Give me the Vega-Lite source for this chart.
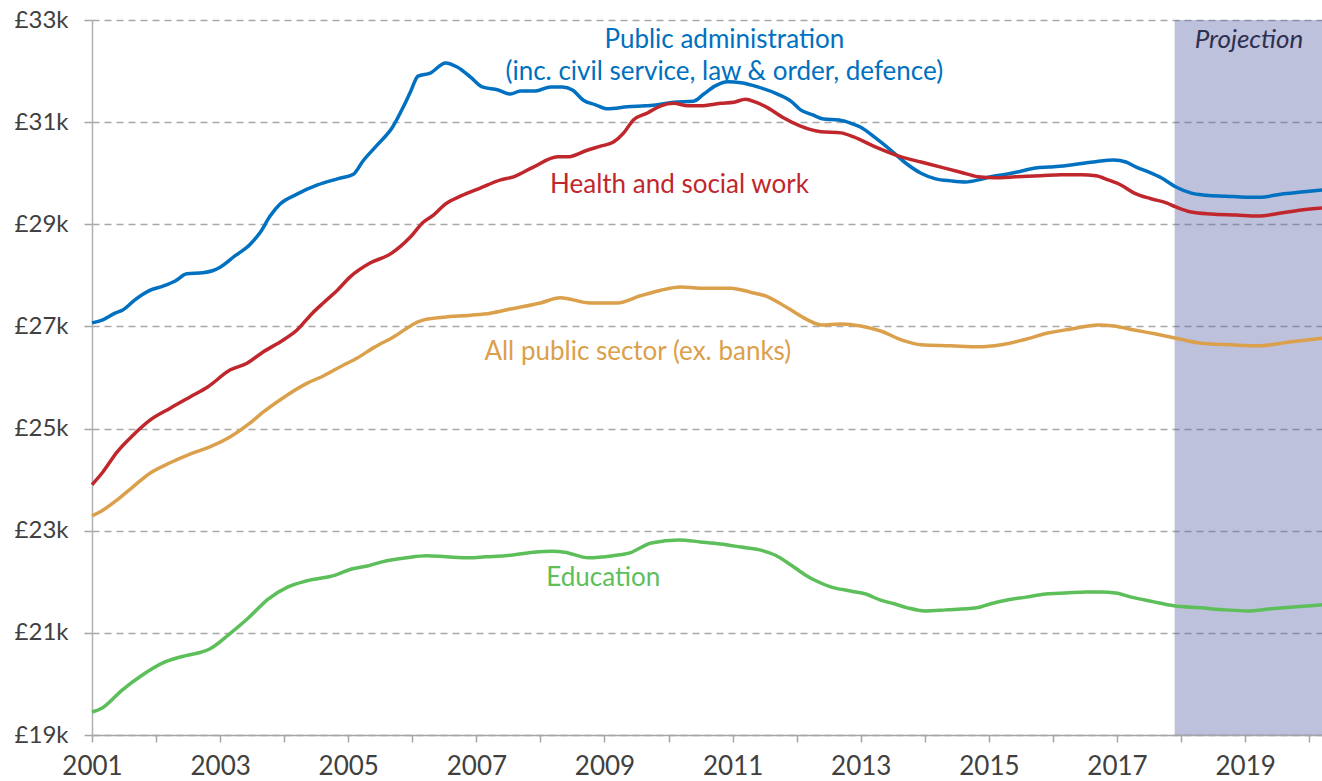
{
  "$schema": "https://vega.github.io/schema/vega-lite/v6.json",
  "width": 1230,
  "height": 715,
  "padding": {"left": 92, "top": 20, "right": 0, "bottom": 46},
  "autosize": {"type": "none"},
  "background": "white",
  "config": {
    "view": {"stroke": null},
    "font": "Lato",
    "axis": {"labelFont": "Lato", "labelColor": "#404040", "titleFont": "Lato"}
  },
  "datasets": {
    "projection": [{"start": 2017.9, "end": 2020.2, "low": 19000, "high": 33000}],
    "labels": [
      {"series": "Public administration", "text": "Public administration", "year": 2010.87, "value": 32600},
      {"series": "Public administration", "text": "(inc. civil service, law & order, defence)", "year": 2010.87, "value": 31980},
      {"series": "Health and social work", "text": "Health and social work", "year": 2010.17, "value": 29770},
      {"series": "All public sector (ex. banks)", "text": "All public sector (ex. banks)", "year": 2009.52, "value": 26500},
      {"series": "Education", "text": "Education", "year": 2008.98, "value": 22070}
    ],
    "series": [
      {"series": "Public administration", "year": 2001.00, "value": 27070},
      {"series": "Public administration", "year": 2001.17, "value": 27130},
      {"series": "Public administration", "year": 2001.36, "value": 27260},
      {"series": "Public administration", "year": 2001.48, "value": 27320},
      {"series": "Public administration", "year": 2001.67, "value": 27520},
      {"series": "Public administration", "year": 2001.91, "value": 27710},
      {"series": "Public administration", "year": 2002.11, "value": 27790},
      {"series": "Public administration", "year": 2002.30, "value": 27890},
      {"series": "Public administration", "year": 2002.48, "value": 28030},
      {"series": "Public administration", "year": 2002.73, "value": 28050},
      {"series": "Public administration", "year": 2002.88, "value": 28090},
      {"series": "Public administration", "year": 2003.00, "value": 28160},
      {"series": "Public administration", "year": 2003.23, "value": 28380},
      {"series": "Public administration", "year": 2003.47, "value": 28610},
      {"series": "Public administration", "year": 2003.63, "value": 28850},
      {"series": "Public administration", "year": 2003.78, "value": 29160},
      {"series": "Public administration", "year": 2003.94, "value": 29400},
      {"series": "Public administration", "year": 2004.20, "value": 29590},
      {"series": "Public administration", "year": 2004.52, "value": 29770},
      {"series": "Public administration", "year": 2004.83, "value": 29890},
      {"series": "Public administration", "year": 2005.08, "value": 29980},
      {"series": "Public administration", "year": 2005.23, "value": 30240},
      {"series": "Public administration", "year": 2005.45, "value": 30550},
      {"series": "Public administration", "year": 2005.69, "value": 30900},
      {"series": "Public administration", "year": 2005.86, "value": 31300},
      {"series": "Public administration", "year": 2005.97, "value": 31590},
      {"series": "Public administration", "year": 2006.09, "value": 31900},
      {"series": "Public administration", "year": 2006.28, "value": 31960},
      {"series": "Public administration", "year": 2006.52, "value": 32160},
      {"series": "Public administration", "year": 2006.70, "value": 32080},
      {"series": "Public administration", "year": 2006.91, "value": 31880},
      {"series": "Public administration", "year": 2007.09, "value": 31690},
      {"series": "Public administration", "year": 2007.34, "value": 31630},
      {"series": "Public administration", "year": 2007.53, "value": 31550},
      {"series": "Public administration", "year": 2007.69, "value": 31610},
      {"series": "Public administration", "year": 2007.92, "value": 31610},
      {"series": "Public administration", "year": 2008.16, "value": 31690},
      {"series": "Public administration", "year": 2008.34, "value": 31690},
      {"series": "Public administration", "year": 2008.50, "value": 31630},
      {"series": "Public administration", "year": 2008.67, "value": 31430},
      {"series": "Public administration", "year": 2008.86, "value": 31340},
      {"series": "Public administration", "year": 2009.05, "value": 31260},
      {"series": "Public administration", "year": 2009.36, "value": 31300},
      {"series": "Public administration", "year": 2009.64, "value": 31320},
      {"series": "Public administration", "year": 2009.83, "value": 31340},
      {"series": "Public administration", "year": 2010.08, "value": 31390},
      {"series": "Public administration", "year": 2010.39, "value": 31410},
      {"series": "Public administration", "year": 2010.55, "value": 31550},
      {"series": "Public administration", "year": 2010.73, "value": 31710},
      {"series": "Public administration", "year": 2010.92, "value": 31790},
      {"series": "Public administration", "year": 2011.13, "value": 31770},
      {"series": "Public administration", "year": 2011.39, "value": 31690},
      {"series": "Public administration", "year": 2011.70, "value": 31550},
      {"series": "Public administration", "year": 2011.91, "value": 31410},
      {"series": "Public administration", "year": 2012.06, "value": 31240},
      {"series": "Public administration", "year": 2012.25, "value": 31140},
      {"series": "Public administration", "year": 2012.42, "value": 31060},
      {"series": "Public administration", "year": 2012.66, "value": 31040},
      {"series": "Public administration", "year": 2012.84, "value": 30980},
      {"series": "Public administration", "year": 2013.00, "value": 30900},
      {"series": "Public administration", "year": 2013.23, "value": 30690},
      {"series": "Public administration", "year": 2013.47, "value": 30450},
      {"series": "Public administration", "year": 2013.70, "value": 30200},
      {"series": "Public administration", "year": 2013.94, "value": 30000},
      {"series": "Public administration", "year": 2014.17, "value": 29890},
      {"series": "Public administration", "year": 2014.41, "value": 29850},
      {"series": "Public administration", "year": 2014.64, "value": 29830},
      {"series": "Public administration", "year": 2014.84, "value": 29870},
      {"series": "Public administration", "year": 2015.03, "value": 29930},
      {"series": "Public administration", "year": 2015.27, "value": 29980},
      {"series": "Public administration", "year": 2015.50, "value": 30040},
      {"series": "Public administration", "year": 2015.73, "value": 30100},
      {"series": "Public administration", "year": 2015.94, "value": 30120},
      {"series": "Public administration", "year": 2016.16, "value": 30140},
      {"series": "Public administration", "year": 2016.39, "value": 30180},
      {"series": "Public administration", "year": 2016.63, "value": 30220},
      {"series": "Public administration", "year": 2016.95, "value": 30260},
      {"series": "Public administration", "year": 2017.14, "value": 30220},
      {"series": "Public administration", "year": 2017.30, "value": 30120},
      {"series": "Public administration", "year": 2017.50, "value": 30020},
      {"series": "Public administration", "year": 2017.69, "value": 29910},
      {"series": "Public administration", "year": 2017.92, "value": 29730},
      {"series": "Public administration", "year": 2018.16, "value": 29610},
      {"series": "Public administration", "year": 2018.39, "value": 29570},
      {"series": "Public administration", "year": 2018.70, "value": 29550},
      {"series": "Public administration", "year": 2019.02, "value": 29530},
      {"series": "Public administration", "year": 2019.22, "value": 29530},
      {"series": "Public administration", "year": 2019.56, "value": 29590},
      {"series": "Public administration", "year": 2019.88, "value": 29630},
      {"series": "Public administration", "year": 2020.20, "value": 29670},

      {"series": "Health and social work", "year": 2001.00, "value": 23900},
      {"series": "Health and social work", "year": 2001.17, "value": 24150},
      {"series": "Health and social work", "year": 2001.39, "value": 24540},
      {"series": "Health and social work", "year": 2001.64, "value": 24870},
      {"series": "Health and social work", "year": 2001.91, "value": 25170},
      {"series": "Health and social work", "year": 2002.22, "value": 25400},
      {"series": "Health and social work", "year": 2002.53, "value": 25620},
      {"series": "Health and social work", "year": 2002.80, "value": 25810},
      {"series": "Health and social work", "year": 2003.16, "value": 26150},
      {"series": "Health and social work", "year": 2003.42, "value": 26280},
      {"series": "Health and social work", "year": 2003.67, "value": 26500},
      {"series": "Health and social work", "year": 2003.98, "value": 26730},
      {"series": "Health and social work", "year": 2004.20, "value": 26930},
      {"series": "Health and social work", "year": 2004.44, "value": 27260},
      {"series": "Health and social work", "year": 2004.61, "value": 27460},
      {"series": "Health and social work", "year": 2004.83, "value": 27710},
      {"series": "Health and social work", "year": 2005.03, "value": 27970},
      {"series": "Health and social work", "year": 2005.34, "value": 28240},
      {"series": "Health and social work", "year": 2005.66, "value": 28420},
      {"series": "Health and social work", "year": 2005.97, "value": 28750},
      {"series": "Health and social work", "year": 2006.17, "value": 29040},
      {"series": "Health and social work", "year": 2006.33, "value": 29180},
      {"series": "Health and social work", "year": 2006.52, "value": 29400},
      {"series": "Health and social work", "year": 2006.75, "value": 29550},
      {"series": "Health and social work", "year": 2007.06, "value": 29710},
      {"series": "Health and social work", "year": 2007.38, "value": 29870},
      {"series": "Health and social work", "year": 2007.58, "value": 29930},
      {"series": "Health and social work", "year": 2007.89, "value": 30120},
      {"series": "Health and social work", "year": 2008.27, "value": 30320},
      {"series": "Health and social work", "year": 2008.42, "value": 30320},
      {"series": "Health and social work", "year": 2008.73, "value": 30450},
      {"series": "Health and social work", "year": 2008.94, "value": 30530},
      {"series": "Health and social work", "year": 2009.14, "value": 30610},
      {"series": "Health and social work", "year": 2009.30, "value": 30790},
      {"series": "Health and social work", "year": 2009.45, "value": 31040},
      {"series": "Health and social work", "year": 2009.67, "value": 31180},
      {"series": "Health and social work", "year": 2009.88, "value": 31320},
      {"series": "Health and social work", "year": 2010.08, "value": 31370},
      {"series": "Health and social work", "year": 2010.30, "value": 31320},
      {"series": "Health and social work", "year": 2010.50, "value": 31320},
      {"series": "Health and social work", "year": 2010.81, "value": 31370},
      {"series": "Health and social work", "year": 2011.02, "value": 31390},
      {"series": "Health and social work", "year": 2011.20, "value": 31450},
      {"series": "Health and social work", "year": 2011.36, "value": 31390},
      {"series": "Health and social work", "year": 2011.55, "value": 31280},
      {"series": "Health and social work", "year": 2011.80, "value": 31080},
      {"series": "Health and social work", "year": 2012.06, "value": 30920},
      {"series": "Health and social work", "year": 2012.38, "value": 30810},
      {"series": "Health and social work", "year": 2012.69, "value": 30790},
      {"series": "Health and social work", "year": 2012.89, "value": 30710},
      {"series": "Health and social work", "year": 2013.20, "value": 30530},
      {"series": "Health and social work", "year": 2013.63, "value": 30320},
      {"series": "Health and social work", "year": 2013.94, "value": 30220},
      {"series": "Health and social work", "year": 2014.25, "value": 30120},
      {"series": "Health and social work", "year": 2014.56, "value": 30020},
      {"series": "Health and social work", "year": 2014.83, "value": 29930},
      {"series": "Health and social work", "year": 2015.11, "value": 29910},
      {"series": "Health and social work", "year": 2015.42, "value": 29930},
      {"series": "Health and social work", "year": 2015.81, "value": 29950},
      {"series": "Health and social work", "year": 2016.13, "value": 29970},
      {"series": "Health and social work", "year": 2016.44, "value": 29970},
      {"series": "Health and social work", "year": 2016.67, "value": 29950},
      {"series": "Health and social work", "year": 2016.86, "value": 29870},
      {"series": "Health and social work", "year": 2017.06, "value": 29770},
      {"series": "Health and social work", "year": 2017.27, "value": 29610},
      {"series": "Health and social work", "year": 2017.53, "value": 29500},
      {"series": "Health and social work", "year": 2017.77, "value": 29420},
      {"series": "Health and social work", "year": 2017.92, "value": 29340},
      {"series": "Health and social work", "year": 2018.16, "value": 29240},
      {"series": "Health and social work", "year": 2018.47, "value": 29200},
      {"series": "Health and social work", "year": 2018.86, "value": 29180},
      {"series": "Health and social work", "year": 2019.20, "value": 29160},
      {"series": "Health and social work", "year": 2019.56, "value": 29220},
      {"series": "Health and social work", "year": 2019.88, "value": 29280},
      {"series": "Health and social work", "year": 2020.20, "value": 29320},

      {"series": "All public sector (ex. banks)", "year": 2001.00, "value": 23290},
      {"series": "All public sector (ex. banks)", "year": 2001.13, "value": 23370},
      {"series": "All public sector (ex. banks)", "year": 2001.39, "value": 23600},
      {"series": "All public sector (ex. banks)", "year": 2001.64, "value": 23860},
      {"series": "All public sector (ex. banks)", "year": 2001.91, "value": 24130},
      {"series": "All public sector (ex. banks)", "year": 2002.22, "value": 24330},
      {"series": "All public sector (ex. banks)", "year": 2002.53, "value": 24500},
      {"series": "All public sector (ex. banks)", "year": 2002.84, "value": 24640},
      {"series": "All public sector (ex. banks)", "year": 2003.16, "value": 24840},
      {"series": "All public sector (ex. banks)", "year": 2003.47, "value": 25110},
      {"series": "All public sector (ex. banks)", "year": 2003.67, "value": 25320},
      {"series": "All public sector (ex. banks)", "year": 2003.98, "value": 25600},
      {"series": "All public sector (ex. banks)", "year": 2004.36, "value": 25890},
      {"series": "All public sector (ex. banks)", "year": 2004.61, "value": 26030},
      {"series": "All public sector (ex. banks)", "year": 2004.92, "value": 26240},
      {"series": "All public sector (ex. banks)", "year": 2005.14, "value": 26380},
      {"series": "All public sector (ex. banks)", "year": 2005.39, "value": 26580},
      {"series": "All public sector (ex. banks)", "year": 2005.70, "value": 26790},
      {"series": "All public sector (ex. banks)", "year": 2006.13, "value": 27110},
      {"series": "All public sector (ex. banks)", "year": 2006.48, "value": 27180},
      {"series": "All public sector (ex. banks)", "year": 2006.91, "value": 27220},
      {"series": "All public sector (ex. banks)", "year": 2007.22, "value": 27260},
      {"series": "All public sector (ex. banks)", "year": 2007.53, "value": 27340},
      {"series": "All public sector (ex. banks)", "year": 2008.00, "value": 27460},
      {"series": "All public sector (ex. banks)", "year": 2008.31, "value": 27560},
      {"series": "All public sector (ex. banks)", "year": 2008.78, "value": 27460},
      {"series": "All public sector (ex. banks)", "year": 2009.20, "value": 27460},
      {"series": "All public sector (ex. banks)", "year": 2009.56, "value": 27600},
      {"series": "All public sector (ex. banks)", "year": 2009.88, "value": 27710},
      {"series": "All public sector (ex. banks)", "year": 2010.19, "value": 27770},
      {"series": "All public sector (ex. banks)", "year": 2010.50, "value": 27750},
      {"series": "All public sector (ex. banks)", "year": 2010.97, "value": 27750},
      {"series": "All public sector (ex. banks)", "year": 2011.28, "value": 27670},
      {"series": "All public sector (ex. banks)", "year": 2011.55, "value": 27580},
      {"series": "All public sector (ex. banks)", "year": 2011.86, "value": 27360},
      {"series": "All public sector (ex. banks)", "year": 2012.17, "value": 27130},
      {"series": "All public sector (ex. banks)", "year": 2012.38, "value": 27030},
      {"series": "All public sector (ex. banks)", "year": 2012.69, "value": 27050},
      {"series": "All public sector (ex. banks)", "year": 2013.00, "value": 27010},
      {"series": "All public sector (ex. banks)", "year": 2013.31, "value": 26910},
      {"series": "All public sector (ex. banks)", "year": 2013.67, "value": 26720},
      {"series": "All public sector (ex. banks)", "year": 2013.94, "value": 26640},
      {"series": "All public sector (ex. banks)", "year": 2014.41, "value": 26620},
      {"series": "All public sector (ex. banks)", "year": 2014.83, "value": 26600},
      {"series": "All public sector (ex. banks)", "year": 2015.19, "value": 26640},
      {"series": "All public sector (ex. banks)", "year": 2015.58, "value": 26750},
      {"series": "All public sector (ex. banks)", "year": 2015.92, "value": 26870},
      {"series": "All public sector (ex. banks)", "year": 2016.28, "value": 26950},
      {"series": "All public sector (ex. banks)", "year": 2016.70, "value": 27030},
      {"series": "All public sector (ex. banks)", "year": 2016.95, "value": 27010},
      {"series": "All public sector (ex. banks)", "year": 2017.27, "value": 26930},
      {"series": "All public sector (ex. banks)", "year": 2017.61, "value": 26850},
      {"series": "All public sector (ex. banks)", "year": 2017.92, "value": 26770},
      {"series": "All public sector (ex. banks)", "year": 2018.31, "value": 26670},
      {"series": "All public sector (ex. banks)", "year": 2018.78, "value": 26640},
      {"series": "All public sector (ex. banks)", "year": 2019.20, "value": 26620},
      {"series": "All public sector (ex. banks)", "year": 2019.72, "value": 26700},
      {"series": "All public sector (ex. banks)", "year": 2020.20, "value": 26770},

      {"series": "Education", "year": 2001.00, "value": 19450},
      {"series": "Education", "year": 2001.16, "value": 19530},
      {"series": "Education", "year": 2001.47, "value": 19880},
      {"series": "Education", "year": 2001.77, "value": 20160},
      {"series": "Education", "year": 2002.14, "value": 20430},
      {"series": "Education", "year": 2002.45, "value": 20550},
      {"series": "Education", "year": 2002.67, "value": 20610},
      {"series": "Education", "year": 2002.83, "value": 20680},
      {"series": "Education", "year": 2003.13, "value": 20960},
      {"series": "Education", "year": 2003.44, "value": 21290},
      {"series": "Education", "year": 2003.75, "value": 21660},
      {"series": "Education", "year": 2004.06, "value": 21900},
      {"series": "Education", "year": 2004.36, "value": 22020},
      {"series": "Education", "year": 2004.80, "value": 22130},
      {"series": "Education", "year": 2005.05, "value": 22250},
      {"series": "Education", "year": 2005.30, "value": 22310},
      {"series": "Education", "year": 2005.53, "value": 22390},
      {"series": "Education", "year": 2005.91, "value": 22470},
      {"series": "Education", "year": 2006.22, "value": 22510},
      {"series": "Education", "year": 2006.53, "value": 22490},
      {"series": "Education", "year": 2006.89, "value": 22470},
      {"series": "Education", "year": 2007.14, "value": 22490},
      {"series": "Education", "year": 2007.45, "value": 22510},
      {"series": "Education", "year": 2007.89, "value": 22580},
      {"series": "Education", "year": 2008.19, "value": 22600},
      {"series": "Education", "year": 2008.38, "value": 22580},
      {"series": "Education", "year": 2008.75, "value": 22470},
      {"series": "Education", "year": 2009.13, "value": 22510},
      {"series": "Education", "year": 2009.38, "value": 22560},
      {"series": "Education", "year": 2009.73, "value": 22760},
      {"series": "Education", "year": 2010.17, "value": 22820},
      {"series": "Education", "year": 2010.50, "value": 22780},
      {"series": "Education", "year": 2010.81, "value": 22740},
      {"series": "Education", "year": 2011.13, "value": 22680},
      {"series": "Education", "year": 2011.44, "value": 22620},
      {"series": "Education", "year": 2011.67, "value": 22520},
      {"series": "Education", "year": 2011.91, "value": 22330},
      {"series": "Education", "year": 2012.14, "value": 22130},
      {"series": "Education", "year": 2012.30, "value": 22020},
      {"series": "Education", "year": 2012.53, "value": 21900},
      {"series": "Education", "year": 2012.84, "value": 21820},
      {"series": "Education", "year": 2013.08, "value": 21760},
      {"series": "Education", "year": 2013.31, "value": 21640},
      {"series": "Education", "year": 2013.52, "value": 21570},
      {"series": "Education", "year": 2013.73, "value": 21490},
      {"series": "Education", "year": 2014.00, "value": 21430},
      {"series": "Education", "year": 2014.33, "value": 21450},
      {"series": "Education", "year": 2014.81, "value": 21490},
      {"series": "Education", "year": 2015.03, "value": 21570},
      {"series": "Education", "year": 2015.27, "value": 21640},
      {"series": "Education", "year": 2015.58, "value": 21700},
      {"series": "Education", "year": 2015.89, "value": 21760},
      {"series": "Education", "year": 2016.20, "value": 21780},
      {"series": "Education", "year": 2016.52, "value": 21800},
      {"series": "Education", "year": 2016.75, "value": 21800},
      {"series": "Education", "year": 2016.98, "value": 21780},
      {"series": "Education", "year": 2017.22, "value": 21700},
      {"series": "Education", "year": 2017.53, "value": 21620},
      {"series": "Education", "year": 2017.89, "value": 21530},
      {"series": "Education", "year": 2018.31, "value": 21490},
      {"series": "Education", "year": 2018.70, "value": 21450},
      {"series": "Education", "year": 2019.03, "value": 21430},
      {"series": "Education", "year": 2019.41, "value": 21470},
      {"series": "Education", "year": 2019.80, "value": 21510},
      {"series": "Education", "year": 2020.20, "value": 21550}
    ]
  },
  "layer": [
    {
      "data": {"name": "projection"},
      "mark": {"type": "rect", "color": "#5A63A8", "opacity": 0.4},
      "encoding": {
        "x": {"field": "start", "type": "quantitative", "scale": {"domain": [2001, 2020.2], "nice": false, "zero": false},
          "axis": {"values": [2001,2002,2003,2004,2005,2006,2007,2008,2009,2010,2011,2012,2013,2014,2015,2016,2017,2018,2019,2020],
            "labelExpr": "datum.value % 2 == 1 ? format(datum.value, 'd') : ''", "title": null, "grid": false,
            "labelFontSize": 26, "labelPadding": 11,
            "domainColor": "#a6a6a6", "domainWidth": 1.5, "tickColor": "#a6a6a6", "tickWidth": 1.5, "tickSize": 7, "labelFlush": false, "labelOverlap": false}},
        "x2": {"field": "end"},
        "y": {"field": "high", "type": "quantitative", "scale": {"domain": [19000, 33000], "nice": false, "zero": false},
          "axis": {"values": [19000,21000,23000,25000,27000,29000,31000,33000],
            "labelExpr": "'£' + format(datum.value / 1000, 'd') + 'k'", "title": null, "grid": true,
            "labelFontSize": 24,
            "gridColor": "#a8a8a8", "gridDash": [7, 5], "gridWidth": 1.5,
            "domainColor": "#b0b0b0", "domainWidth": 1.5, "tickColor": "#a6a6a6", "tickWidth": 1.5, "tickSize": 8, "labelPadding": 16}},
        "y2": {"field": "low"}
      }
    },
    {
      "data": {"name": "series"},
      "mark": {"type": "line", "strokeWidth": 3.5, "interpolate": "monotone"},
      "encoding": {
        "x": {"field": "year", "type": "quantitative"},
        "y": {"field": "value", "type": "quantitative"},
        "color": {"field": "series", "type": "nominal",
          "scale": {"domain": ["Public administration", "Health and social work", "All public sector (ex. banks)", "Education"],
            "range": ["#0070C0", "#C0272D", "#DBA04B", "#5CBF5A"]}, "legend": null}
      }
    },
    {
      "data": {"name": "labels"},
      "mark": {"type": "text", "fontSize": 26, "font": "Lato", "align": "center", "baseline": "middle"},
      "encoding": {
        "x": {"field": "year", "type": "quantitative"},
        "y": {"field": "value", "type": "quantitative"},
        "text": {"field": "text"},
        "color": {"field": "series", "type": "nominal", "legend": null}
      }
    },
    {
      "data": {"values": [{"text": "Projection", "year": 2019.06, "value": 32610}]},
      "mark": {"type": "text", "fontSize": 26, "font": "Lato", "fontStyle": "italic", "fontWeight": 400, "align": "center", "baseline": "middle", "color": "#2E3050"},
      "encoding": {
        "x": {"field": "year", "type": "quantitative"},
        "y": {"field": "value", "type": "quantitative"},
        "text": {"field": "text"}
      }
    }
  ]
}
